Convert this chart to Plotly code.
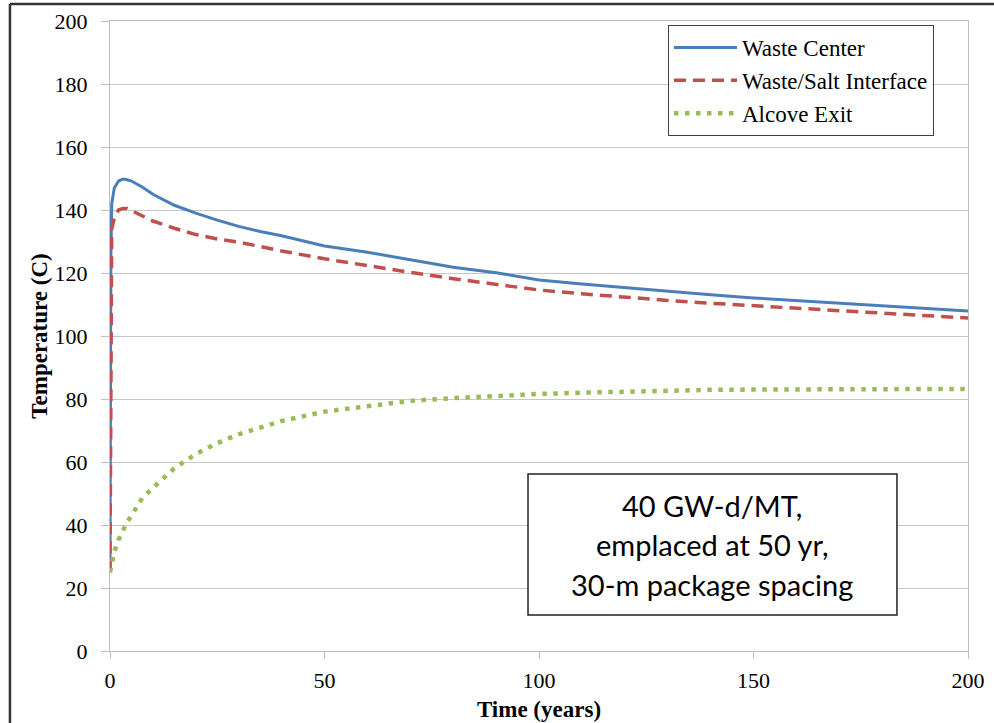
import plotly.graph_objects as go

# ---- data ----
time_years = [0, 0.1, 0.2, 0.4, 1, 2, 3, 4, 5, 7.5, 10, 15, 20, 25, 30, 35, 40,
              50, 60, 70, 80, 90, 100, 110, 120, 130, 140, 150, 160, 170, 180, 190, 200]
waste_center = [25, 80, 125, 142, 147, 149.2, 149.8, 149.6, 149.2, 147.3, 145, 141.5, 139,
                136.8, 134.8, 133.2, 131.8, 128.6, 126.6, 124.2, 121.8, 120.1, 117.8, 116.5,
                115.3, 114.2, 113.1, 112.1, 111.3, 110.5, 109.6, 108.8, 107.9]
waste_salt = [25, 80, 120, 134, 137.5, 140, 140.5, 140.5, 139.8, 138.2, 136.5, 134.2, 132.2,
              130.8, 129.8, 128.4, 127, 124.5, 122.3, 120.2, 118.2, 116.3, 114.6, 113.4,
              112.3, 111.3, 110.4, 109.6, 108.8, 108, 107.2, 106.4, 105.7]
alcove_exit = [25, 25.8, 26.6, 28.4, 31.5, 35.3, 38.5, 41, 43, 48.5, 51.8, 58, 62.5, 66,
               68.8, 71, 73, 76, 77.8, 79.4, 80.3, 81, 81.6, 82, 82.4, 82.7, 82.9, 83,
               83.1, 83.2, 83.2, 83.2, 83.2]

series_names = ["Waste Center", "Waste/Salt Interface", "Alcove Exit"]
x_ticks = [0, 50, 100, 150, 200]
y_ticks = [0, 20, 40, 60, 80, 100, 120, 140, 160, 180, 200]
note_lines = ["40 GW-d/MT,", "emplaced at 50 yr,", "30-m package spacing"]

SERIF = "Liberation Serif"

fig = go.Figure()
fig.add_trace(go.Scatter(x=time_years, y=waste_center, name=series_names[0], mode="lines",
                         line=dict(color="#4a7ebb", width=3)))
fig.add_trace(go.Scatter(x=time_years, y=waste_salt, name=series_names[1], mode="lines",
                         line=dict(color="#c0504d", width=3.5, dash="12px,7px")))
fig.add_trace(go.Scatter(x=time_years, y=alcove_exit, name=series_names[2], mode="lines",
                         line=dict(color="#9bbb59", width=4.5, dash="4.5px,6.5px")))

fig.update_layout(
    width=994, height=723,
    margin=dict(l=110, r=26, t=21, b=72, autoexpand=False),
    paper_bgcolor="white", plot_bgcolor="white",
    font=dict(family=SERIF, size=22, color="black"),
    showlegend=True,
    legend=dict(x=0.6503, y=0.9937, xanchor="left", yanchor="top",
                bgcolor="white", bordercolor="#404040", borderwidth=1,
                font=dict(family=SERIF, size=23, color="black"),
                itemwidth=63, traceorder="normal"),
    xaxis=dict(range=[0, 200], tickvals=x_ticks, showgrid=False, automargin=False,
               showline=True, linecolor="#bfbfbf", linewidth=1, mirror=True,
               ticks="outside", ticklen=7, tickcolor="#bfbfbf",
               ticklabelstandoff=3,
               tickfont=dict(family=SERIF, size=22),
               title=dict(text="<b>Time (years)</b>", font=dict(family=SERIF, size=23),
                          standoff=8),
               zeroline=False),
    yaxis=dict(range=[0, 200], tickvals=y_ticks, showgrid=True, gridcolor="#c8c8c8",
               gridwidth=1, showline=True, linecolor="#bfbfbf", linewidth=1, mirror=True,
               automargin=False,
               ticks="outside", ticklen=8, tickcolor="#bfbfbf",
               ticklabelstandoff=9,
               tickfont=dict(family=SERIF, size=22),
               title=dict(text="<b>Temperature (C)</b>", font=dict(family=SERIF, size=23),
                          standoff=0),
               zeroline=False),
)

# note box
fig.add_shape(type="rect", xref="paper", yref="paper", x0=0.4872, x1=0.9172,
              y0=0.0571, y1=0.281, line=dict(color="#222222", width=1.5),
              fillcolor="white", layer="above")
for txt, yy in zip(note_lines, [0.2302, 0.1683, 0.1063]):
    fig.add_annotation(text=txt, xref="paper", yref="paper", x=0.7022, y=yy,
                       xanchor="center", yanchor="middle", showarrow=False,
                       font=dict(family="Lato", size=29, color="black"))

# outer frame (top & left edges visible)
fig.add_shape(type="line", xref="paper", yref="paper", x0=-0.1166, x1=1.04,
              y0=1.027, y1=1.027, line=dict(color="#333333", width=2.5))
fig.add_shape(type="line", xref="paper", yref="paper", x0=-0.1166, x1=-0.1166,
              y0=1.027, y1=-0.13, line=dict(color="#333333", width=2.5))

fig.write_html("out.html")
